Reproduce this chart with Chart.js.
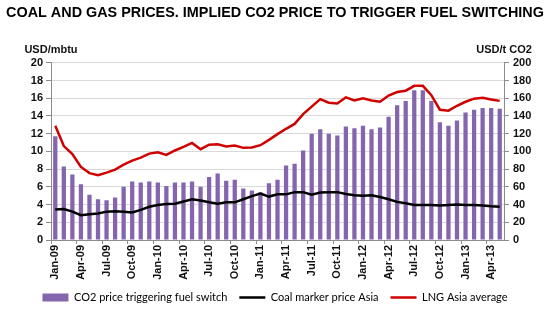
<!DOCTYPE html>
<html>
<head>
<meta charset="utf-8">
<script src="https://cdn.jsdelivr.net/npm/chart.js@4.4.0/dist/chart.umd.min.js"></script>
<style>
	html, body { margin: 0; padding: 0; background: #fff; }
	#root { width: 550px; height: 328px; }
</style>
</head>
<body>
<div id="root"><canvas id="main-chart" width="550" height="328"></canvas></div>
<script>
// months Jan-09 .. May-13
var monthNames = ['Jan', 'Feb', 'Mar', 'Apr', 'May', 'Jun', 'Jul', 'Aug', 'Sep', 'Oct', 'Nov', 'Dec'];
var years = ['09', '10', '11', '12', '13'];
var lastMonthIndex = 4; // May-13

// CO2 price triggering fuel switch, USD/tCO2 (right axis)
var co2Switch = [
	117, 83, 74, 63, 51, 46, 45, 48, 60, 66, 65, 66,
	65, 61, 65, 65, 66, 60, 71, 75, 67, 68, 58, 56,
	54, 64, 68, 84, 86, 101, 120, 125, 120, 118, 128, 126,
	129, 125, 127, 139, 152, 157, 169, 169, 157, 133, 129, 135,
	144, 147, 149, 149, 148
];
// Coal marker price Asia, USD/mbtu
var coalAsia = [
	3.45, 3.5, 3.2, 2.8, 2.9, 3.0, 3.2, 3.25, 3.2, 3.1, 3.4, 3.75,
	3.95, 4.05, 4.1, 4.35, 4.6, 4.45, 4.25, 4.1, 4.25, 4.25, 4.6, 4.95,
	5.25, 4.9, 5.15, 5.15, 5.4, 5.4, 5.1, 5.35, 5.4, 5.4, 5.2, 5.05,
	5.0, 5.05, 4.85, 4.6, 4.3, 4.15, 3.95, 3.95, 3.95, 3.9, 3.95, 4.0,
	3.95, 3.95, 3.9, 3.8, 3.75
];
// LNG Asia average, USD/mbtu
var lngAsia = [
	12.9, 10.6, 9.7, 8.25, 7.55, 7.3, 7.6, 7.95, 8.5, 8.95, 9.3, 9.75,
	9.9, 9.6, 10.1, 10.5, 10.95, 10.25, 10.75, 10.8, 10.55, 10.65, 10.4, 10.45,
	10.7, 11.3, 11.95, 12.55, 13.1, 14.2, 15.05, 15.9, 15.5, 15.4, 16.1, 15.75,
	16.0, 15.75, 15.6, 16.3, 16.7, 16.85, 17.4, 17.4, 16.35, 14.7, 14.6, 15.15,
	15.6, 15.95, 16.05, 15.85, 15.7
];

var leftTicks = { min: 0, max: 20, step: 2 };
var rightTicks = { min: 0, max: 200, step: 20 };

var labels = [];
years.forEach(function(y, yi) {
	monthNames.forEach(function(m, mi) {
		if (yi === years.length - 1 && mi > lastMonthIndex) return;
		labels.push(m + '-' + y);
	});
});

var txt = '#111';
var gridCol = '#d9d9d9';
var axisCol = '#8c8c8c';
var sans = '"Liberation Sans", Arial, sans-serif';

// unit labels above both axes
var axisTitles = {
	id: 'axisTitles',
	afterDraw: function(chart) {
		var c = chart.ctx;
		c.save();
		c.font = 'bold 11px ' + sans;
		c.fillStyle = txt;
		c.textAlign = 'center';
		c.textBaseline = 'middle';
		c.fillText('USD/mbtu', chart.scales.y.right, 50);
		c.fillText('USD/t CO2', chart.scales.y1.left, 50);
		c.restore();
	}
};

var ctx = document.getElementById('main-chart');
var chart = new Chart(ctx, {
	type: 'bar',
	data: {
		labels: labels,
		datasets: [{
			type: 'bar',
			label: 'CO2 price triggering fuel switch',
			data: co2Switch,
			yAxisID: 'y1',
			backgroundColor: '#8566ae',
			borderWidth: 0,
			barPercentage: 0.5,
			categoryPercentage: 1,
			order: 3
		}, {
			type: 'line',
			label: 'Coal marker price Asia',
			data: coalAsia,
			yAxisID: 'y',
			borderColor: '#000',
			backgroundColor: '#000',
			borderWidth: 2.5,
			pointRadius: 0,
			tension: 0,
			order: 2
		}, {
			type: 'line',
			label: 'LNG Asia average',
			data: lngAsia,
			yAxisID: 'y',
			borderColor: '#d00000',
			backgroundColor: '#d00000',
			borderWidth: 2.5,
			pointRadius: 0,
			tension: 0,
			order: 1
		}]
	},
	options: {
		responsive: false,
		animation: false,
		layout: { padding: { left: 0, right: 0, top: 0, bottom: 15 } },
		plugins: {
			tooltip: { enabled: false },
			title: {
				display: true,
				text: 'COAL AND GAS PRICES. IMPLIED CO2 PRICE TO TRIGGER FUEL SWITCHING',
				color: '#000',
				font: { family: sans, size: 14.4, weight: 'bold' },
				padding: { top: 4, bottom: 41.5 }
			},
			legend: {
				position: 'bottom',
				labels: {
					usePointStyle: true,
					pointStyleWidth: 26,
					boxHeight: 8,
					padding: 12,
					color: '#000',
					font: { family: 'Lato, sans-serif', size: 11 },
					sort: function(a, b) { return a.datasetIndex - b.datasetIndex; },
					generateLabels: function(chart) {
						var items = Chart.defaults.plugins.legend.labels.generateLabels(chart);
						items.forEach(function(it) {
							it.pointStyle = it.datasetIndex === 0 ? 'rect' : 'line';
						});
						return items;
					}
				}
			}
		},
		scales: {
			x: {
				offset: true,
				grid: {
					offset: true,
					drawOnChartArea: false,
					tickLength: 4,
					color: function(c) { return c.index % 3 === 0 ? axisCol : 'rgba(0,0,0,0)'; }
				},
				border: { color: axisCol },
				ticks: {
					autoSkip: false,
					minRotation: 90,
					maxRotation: 90,
					padding: 1,
					color: txt,
					font: { family: sans, size: 11, weight: 'bold' },
					callback: function(val, index) {
						return index % 3 === 0 ? this.getLabelForValue(val) : '';
					}
				},
				afterFit: function(scale) { scale.height = 40; }
			},
			y: {
				position: 'left',
				min: leftTicks.min,
				max: leftTicks.max,
				grid: { color: gridCol, tickColor: axisCol, tickLength: 5 },
				border: { color: axisCol },
				ticks: {
					stepSize: leftTicks.step,
					padding: 3,
					color: txt,
					font: { family: sans, size: 11, weight: 'bold' }
				},
				afterFit: function(scale) { scale.width = 51; }
			},
			y1: {
				position: 'right',
				min: rightTicks.min,
				max: rightTicks.max,
				grid: { drawOnChartArea: false, color: axisCol, tickLength: 5 },
				border: { color: axisCol },
				ticks: {
					stepSize: rightTicks.step,
					padding: 4,
					color: txt,
					font: { family: sans, size: 11, weight: 'bold' }
				},
				afterFit: function(scale) { scale.width = 46; }
			}
		}
	},
	plugins: [axisTitles]
});
</script>
</body>
</html>
